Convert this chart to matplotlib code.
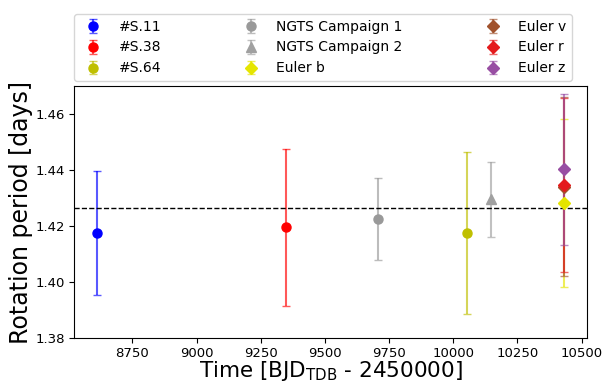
import matplotlib
matplotlib.use("Agg")
import matplotlib.pyplot as plt
from matplotlib.colors import to_rgba
import numpy as np

# rotation period measurements
labels = ["#S.11", "#S.38", "#S.64", "NGTS Campaign 1", "NGTS Campaign 2",
          "Euler b", "Euler v", "Euler r", "Euler z"]
times = [8613, 9348, 10055, 9707, 10148, 10430, 10430, 10430, 10430]
periods = [1.4175, 1.4195, 1.4175, 1.4225, 1.4295, 1.4283, 1.4340, 1.4347, 1.4402]
errors = [0.022, 0.028, 0.029, 0.0147, 0.0134, 0.030, 0.032, 0.031, 0.027]
colors = ["b", "r", "y", "#999999", "#a0a0a0", "#e5e500", "#a0522d", "#e41a1c", "#984ea3"]
markers = ["o", "o", "o", "o", "^", "D", "D", "D", "D"]
sizes = [6.5, 6.5, 6.5, 6.5, 7, 6, 6, 6, 6]
mean_period = 1.4263

fig = plt.figure(figsize=(6.05, 3.85), dpi=100)
ax = fig.add_axes([0.1223, 0.122, 0.8479, 0.6546])

for i in range(len(labels)):
    ax.errorbar(times[i], periods[i], yerr=errors[i], fmt=markers[i],
                color=colors[i], ms=sizes[i], ecolor=to_rgba(colors[i], 0.65),
                capsize=3, elinewidth=1.5, label=labels[i])

ax.axhline(mean_period, color="k", ls="--", lw=1)

ax.set_ylim(1.38, 1.47)
ax.set_yticks([1.38, 1.40, 1.42, 1.44, 1.46])
ax.set_xticks(np.arange(8750, 10501, 250))
ax.tick_params(labelsize=9.5, pad=3)
ax.set_xlabel("Time [BJD$_{\\rm TDB}$ - 2450000]", fontsize=15.5, labelpad=-1)
ax.set_ylabel("Rotation period [days]", fontsize=17, labelpad=2)

ax.legend(loc="lower left", bbox_to_anchor=(0.0, 1.02), borderaxespad=0,
          ncol=3, fontsize=10, columnspacing=5.5)

fig.savefig("out.png", dpi=100)
